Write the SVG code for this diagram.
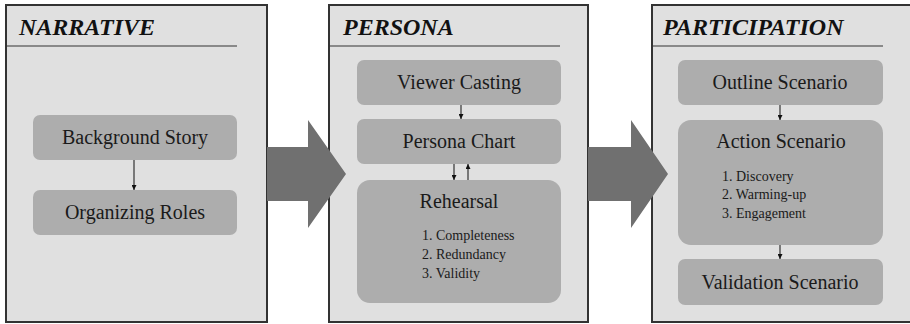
<svg xmlns="http://www.w3.org/2000/svg" width="910" height="324" viewBox="0 0 910 324">
<defs>
<style>
.panel{fill:#e0e0e0;stroke:#333;stroke-width:2}
.hdr{stroke:#333;stroke-width:1}
text{font-family:'Liberation Serif','Times New Roman',serif}
.title{font-weight:bold;font-style:italic;font-size:24px;fill:#111}
.node{fill:#adadad}
.lbl{font-size:20px;fill:#1a1a1a;text-anchor:middle}
.item{font-size:14px;fill:#1a1a1a}
.big{fill:#707070}
.conn{stroke:#111;stroke-width:1;fill:none;marker-end:url(#ah)}
</style>
<marker id="ah" viewBox="0 0 8 8" refX="8" refY="4" markerWidth="5" markerHeight="5" markerUnits="userSpaceOnUse" orient="auto">
<path d="M0,0 L8,4 L0,8 z" fill="#111"/>
</marker>
</defs>
<rect width="910" height="324" fill="#fff"/>
<g id="narrative">
<rect class="panel" x="6" y="5" width="261" height="317"/>
<line class="hdr" x1="6" y1="46" x2="237" y2="46"/>
<text class="title" x="19" y="35">NARRATIVE</text>
</g>
<g id="persona">
<rect class="panel" x="329" y="5" width="259" height="317"/>
<line class="hdr" x1="329" y1="46" x2="560" y2="46"/>
<text class="title" x="343" y="35">PERSONA</text>
</g>
<g id="participation">
<rect class="panel" x="652" y="5" width="262" height="317"/>
<line class="hdr" x1="652" y1="46" x2="883" y2="46"/>
<text class="title" x="663" y="35">PARTICIPATION</text>
</g>
<g id="bigarrow1"><path class="big" d="M267,147 H308 V120 L346,174 L308,228 V201 H267 z"/></g>
<g id="bigarrow2"><path class="big" d="M588,147 H631 V120 L668,174 L631,228 V201 H588 z"/></g>
<g id="background-story">
<rect class="node" x="33" y="115" width="204" height="45" rx="7"/>
<text class="lbl" x="135" y="144">Background Story</text>
</g>
<g id="organizing-roles">
<rect class="node" x="33" y="190" width="204" height="45" rx="7"/>
<text class="lbl" x="135" y="219">Organizing Roles</text>
</g>
<g id="viewer-casting">
<rect class="node" x="357" y="60" width="204" height="45" rx="7"/>
<text class="lbl" x="459" y="89">Viewer Casting</text>
</g>
<g id="persona-chart">
<rect class="node" x="357" y="119" width="204" height="45" rx="7"/>
<text class="lbl" x="459" y="148">Persona Chart</text>
</g>
<g id="rehearsal">
<rect class="node" x="357" y="180" width="204" height="123" rx="13"/>
<text class="lbl" x="459" y="208">Rehearsal</text>
<text class="item" x="422" y="240">1. Completeness</text>
<text class="item" x="422" y="259">2. Redundancy</text>
<text class="item" x="422" y="278">3. Validity</text>
</g>
<g id="outline-scenario">
<rect class="node" x="678" y="60" width="205" height="45" rx="7"/>
<text class="lbl" x="780" y="89">Outline Scenario</text>
</g>
<g id="action-scenario">
<rect class="node" x="678" y="120" width="205" height="125" rx="13"/>
<text class="lbl" x="781" y="148">Action Scenario</text>
<text class="item" x="722" y="181">1. Discovery</text>
<text class="item" x="722" y="199">2. Warming-up</text>
<text class="item" x="722" y="218">3. Engagement</text>
</g>
<g id="validation-scenario">
<rect class="node" x="678" y="259" width="205" height="46" rx="7"/>
<text class="lbl" x="780" y="289">Validation Scenario</text>
</g>
<g id="connectors">
<line class="conn" x1="134" y1="160" x2="134" y2="190"/>
<line class="conn" x1="461" y1="105" x2="461" y2="119"/>
<line class="conn" x1="454" y1="164" x2="454" y2="180"/>
<line class="conn" x1="468" y1="180" x2="468" y2="164"/>
<line class="conn" x1="780" y1="105" x2="780" y2="120"/>
<line class="conn" x1="780" y1="245" x2="780" y2="259"/>
</g>
</svg>
